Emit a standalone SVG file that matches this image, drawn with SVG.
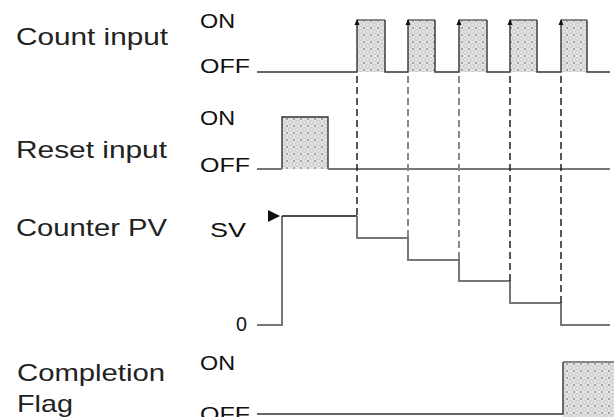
<svg xmlns="http://www.w3.org/2000/svg" width="614" height="417" viewBox="0 0 614 417">
<style>
.lbl{font-family:"Liberation Sans",Arial,sans-serif;font-size:24px;fill:#222}
.st{font-family:"Liberation Sans",Arial,sans-serif;font-size:21px;fill:#111}
.w{fill:none;stroke:#333;stroke-width:1.4}
.wg{fill:none;stroke:#777;stroke-width:2}
.dk{stroke:#111;stroke-width:1.4;stroke-dasharray:7,4;fill:none}
.dg{stroke:#888;stroke-width:2;stroke-dasharray:7,4;fill:none}
.hf{fill:url(#dots);stroke:none}
.top{stroke:#888;stroke-width:2;fill:none}
</style>
<defs>
<pattern id="dots" width="7" height="7" patternUnits="userSpaceOnUse">
<rect width="7" height="7" fill="#e2e2e2"/>
<circle cx="3.5" cy="3.5" r="2" fill="none" stroke="#c0c0c0" stroke-width="0.8"/>
<circle cx="0" cy="0" r="0.8" fill="#555"/>
<circle cx="7" cy="7" r="0.8" fill="#555"/>
<circle cx="7" cy="0" r="0.8" fill="#555"/>
<circle cx="0" cy="7" r="0.8" fill="#555"/>
</pattern>
</defs>
<rect width="614" height="417" fill="#fff"/>

<g id="count-input">
<text class="lbl" x="16" y="45" textLength="152" lengthAdjust="spacingAndGlyphs">Count input</text>
<text class="st" x="200" y="28" textLength="35" lengthAdjust="spacingAndGlyphs">ON</text>
<text class="st" x="200" y="73" textLength="50" lengthAdjust="spacingAndGlyphs">OFF</text>
<rect class="hf" x="357" y="20" width="28" height="52"/>
<rect class="hf" x="408" y="20" width="27" height="52"/>
<rect class="hf" x="459" y="20" width="28" height="52"/>
<rect class="hf" x="510" y="20" width="27" height="52"/>
<rect class="hf" x="561" y="20" width="26" height="52"/>
<path class="top" d="M357,20H385M408,20H435M459,20H487M510,20H537M561,20H587"/>
<path class="w" d="M257,72H357V20M385,20V72H408V20M435,20V72H459V20M487,20V72H510V20M537,20V72H561V20M587,20V72H610"/>
<path fill="#111" d="M357,19l-2.5,6h5zM408,19l-2.5,6h5zM459,19l-2.5,6h5zM510,19l-2.5,6h5zM561,19l-2.5,6h5z"/>
</g>

<g id="reset-input">
<text class="st" x="200" y="125" textLength="35" lengthAdjust="spacingAndGlyphs">ON</text>
<text class="lbl" x="16" y="158" textLength="151" lengthAdjust="spacingAndGlyphs">Reset input</text>
<text class="st" x="200" y="172" textLength="50" lengthAdjust="spacingAndGlyphs">OFF</text>
<rect class="hf" x="282" y="117" width="46" height="52"/>
<path class="w" d="M282,169V117H328V169"/>
<path class="wg" d="M257,169H282M328,169H610"/>
</g>

<g id="counter-pv">
<text class="lbl" x="16" y="236" textLength="151" lengthAdjust="spacingAndGlyphs">Counter PV</text>
<text class="st" x="210" y="237" textLength="36" lengthAdjust="spacingAndGlyphs">SV</text>
<text class="st" x="236" y="331" textLength="11" lengthAdjust="spacingAndGlyphs">0</text>
<path class="wg" d="M257,325H282V216"/>
<path d="M282,216H357" stroke="#111" stroke-width="1.6" fill="none"/>
<path fill="#111" d="M268,210L280,216L268,222Z"/>
<path class="wg" d="M357,216V238H408V260H459V281H510V303H561V325H610"/>
</g>

<g id="completion-flag">
<text class="lbl" x="17" y="381" textLength="148" lengthAdjust="spacingAndGlyphs">Completion</text>
<text class="lbl" x="17" y="412" textLength="56" lengthAdjust="spacingAndGlyphs">Flag</text>
<text class="st" x="200" y="370" textLength="35" lengthAdjust="spacingAndGlyphs">ON</text>
<text class="st" x="200" y="421" textLength="50" lengthAdjust="spacingAndGlyphs">OFF</text>
<rect class="hf" x="563" y="362" width="51" height="55"/>
<path class="top" d="M563,362H614"/>
<path class="w" d="M257,414H563V362"/>
</g>

<g id="connectors">
<path class="dk" d="M357,76V216"/>
<path class="dg" d="M408,76V238"/>
<path class="dg" d="M459,76V260"/>
<path class="dk" d="M510,76V281"/>
<path class="dk" d="M561,76V303"/>
</g>
</svg>
